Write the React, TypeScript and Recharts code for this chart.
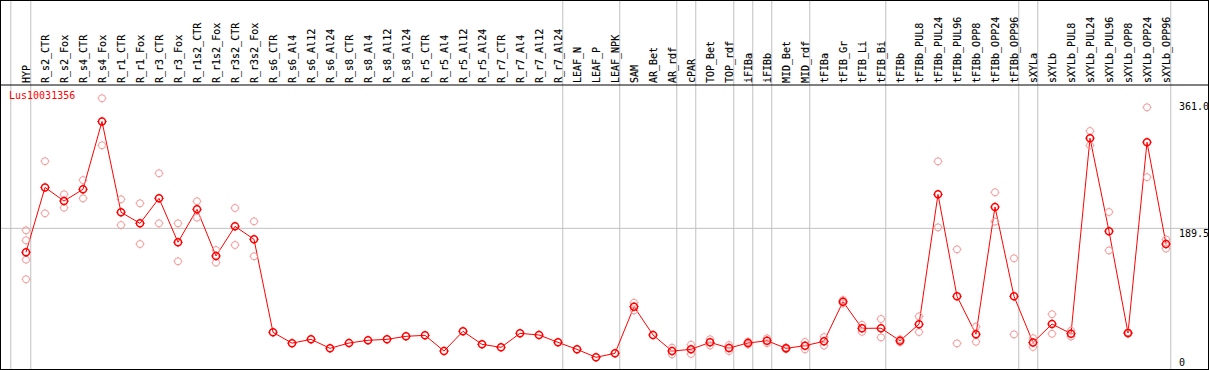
import React from "react";
import {
  ComposedChart,
  Line,
  XAxis,
  YAxis,
  ReferenceLine,
} from "recharts";

const categories = [
  "HYP", "R_s2_CTR", "R_s2_Fox", "R_s4_CTR", "R_s4_Fox", "R_r1_CTR", "R_r1_Fox",
  "R_r3_CTR", "R_r3_Fox", "R_r1s2_CTR", "R_r1s2_Fox", "R_r3s2_CTR", "R_r3s2_Fox",
  "R_s6_CTR", "R_s6_Al4", "R_s6_Al12", "R_s6_Al24", "R_s8_CTR", "R_s8_Al4",
  "R_s8_Al12", "R_s8_Al24", "R_r5_CTR", "R_r5_Al4", "R_r5_Al12", "R_r5_Al24",
  "R_r7_CTR", "R_r7_Al4", "R_r7_Al12", "R_r7_Al24", "LEAF_N", "LEAF_P", "LEAF_NPK",
  "SAM", "AR_Bet", "AR_rdf", "cPAR", "TOP_Bet", "TOP_rdf", "iFIBa", "iFIBb",
  "MID_Bet", "MID_rdf", "tFIBa", "tFIB_Gr", "tFIB_Li", "tFIB_Bi", "tFIBb",
  "tFIBb_PUL8", "tFIBb_PUL24", "tFIBb_PUL96", "tFIBb_OPP8", "tFIBb_OPP24",
  "tFIBb_OPP96", "sXYLa", "sXYLb", "sXYLb_PUL8", "sXYLb_PUL24", "sXYLb_PUL96",
  "sXYLb_OPP8", "sXYLb_OPP24", "sXYLb_OPP96",
];

// mean expression per sample
const meanValues = [
  157, 245, 226.6, 242.5, 334.5, 211.3, 196.3, 230.2, 170.6, 215.3, 152, 192.2, 174.6,
  48.4, 33.7, 38.9, 26.7, 33.9, 37.6, 38.9, 43, 44.3, 23, 49.8, 32.1, 28, 47, 44.8, 34.8,
  25.3, 14.5, 19.9,
  83.2, 44.8, 23, 25.3, 34.8, 27.1, 33.9, 37, 26.7, 30.3, 36.2, 90, 53.8, 54, 37,
  59.4, 235.6, 97.2, 45.8, 218.5, 97.2, 34.5, 59.7, 46.6, 311.8, 185.6, 47.5, 306.3, 168.2,
];

// individual replicates (null = none shown)
const rep1 = [
  186.8, 280.6, 235.7, 255, 366, 228.9, 223.5, 264.2, 196.3, 226.2, 160.1, 217.1, 199,
  null, null, null, null, null, null, null, null, null, null, null, null, null, null, null, null,
  null, null, null,
  88.5, null, 27.5, 31.6, 39, 31.2, 35.8, 40.3, 27.8, 35.3, 42, 92.3, 58.6, 66.5, 39,
  70, 280.4, 161, 56, 238.4, 148.8, 40.5, 73, 50.6, 321.6, 211.7, 48.5, 353.7, 174.4,
];
const rep2 = [
  173.3, 209.9, 217.5, 230.2, 302.2, 194, 168.2, 196.3, 144.8, 204, 142.9, 166.9, 151.6,
  null, null, null, null, null, null, null, null, null, null, null, null, null, null, null, null,
  null, null, null,
  78, null, 18.5, 19, 30.6, 23, 32, 33.7, 25.6, 25.3, 30.4, 87.7, 49, 41.5, 35,
  48.8, 190.8, 33.4, 35.6, 198.6, 45.6, 28.5, 46.4, 42.6, 302, 159.5, 46.5, 258.9, 162,
];
const rep3: (number | null)[] = [147];
const rep4: (number | null)[] = [120.4];

const yTicks = [0, 189.5, 361];
const yGrid = [189.5];
const separators = [-0.8, 0.25, 28.25, 31.25, 34.25, 35.25, 37.25, 38.25, 39.25, 41.25, 45.25, 52.25, 53.25, 60.25];

const data = categories.map((name, i) => ({
  i,
  name,
  mean: meanValues[i],
  r1: rep1[i] ?? null,
  r2: rep2[i] ?? null,
  r3: rep3[i] ?? null,
  r4: rep4[i] ?? null,
}));

const FONT = "'DejaVu Sans Mono', monospace";

function Marker(props: any) {
  const { cx, cy, value, color, r, sw, t } = props;
  if (value == null || cx == null || cy == null) return null;
  return (
    <g stroke={color} strokeWidth={sw} fill="none">
      <circle cx={cx} cy={cy} r={r} />
      <line x1={cx} y1={cy - r} x2={cx} y2={cy - r - t} strokeWidth={1} />
      <line x1={cx} y1={cy + r} x2={cx} y2={cy + r + t} strokeWidth={1} />
      <line x1={cx - r} y1={cy} x2={cx - r - t} y2={cy} strokeWidth={1} />
      <line x1={cx + r} y1={cy} x2={cx + r + t} y2={cy} strokeWidth={1} />
    </g>
  );
}

const pinkDot = (p: any) => <Marker key={p.key} {...p} color="#f29a9a" r={3.5} sw={1} t={1} />;
const redDot = (p: any) => <Marker key={p.key} {...p} color="#ff0000" r={3.5} sw={1.5} t={1.2} />;

function CatTick(props: any) {
  const { x, payload } = props;
  return (
    <text
      transform={`translate(${x},83) rotate(-90)`}
      textAnchor="start"
      dominantBaseline="central"
      fontFamily={FONT}
      fontSize={10}
      fill="#000"
      stroke="#000"
      strokeWidth={0.15}
    >
      {categories[payload.value]}
    </text>
  );
}

function ValTick(props: any) {
  const { y, payload } = props;
  const v = payload.value;
  const label = v === 0 ? "0" : v.toFixed(1);
  return (
    <text
      x={1179}
      y={v === 0 ? y - 2 : y + 1}
      dominantBaseline={v === 0 ? "auto" : "hanging"}
      textAnchor="start"
      fontFamily={FONT}
      fontSize={10}
      fill="#000"
    >
      {label}
    </text>
  );
}

export default function App() {
  return (
    <div style={{ position: "absolute", left: 0, top: 0, width: 1209, height: 370, background: "#fff" }}>
      <ComposedChart
        width={1209}
        height={370}
        data={data}
        margin={{ top: 0, right: 1, bottom: 2, left: 1 }}
      >
        <XAxis
          xAxisId={0}
          type="number"
          dataKey="i"
          orientation="top"
          height={85}
          domain={[-1.3158, 62.2105]}
          allowDataOverflow
          ticks={categories.map((_, i) => i)}
          interval={0}
          tick={<CatTick />}
          tickLine={false}
          axisLine={{ stroke: "#000", strokeWidth: 1 }}
        />
        <YAxis
          yAxisId={0}
          orientation="right"
          mirror
          width={30}
          domain={[0, 384]}
          allowDataOverflow
          ticks={yTicks}
          interval={0}
          tick={<ValTick />}
          tickLine={false}
          axisLine={false}
        />
        {yGrid.map((v) => (
          <ReferenceLine key={"h" + v} y={v} stroke="#c0c0c0" strokeWidth={1} />
        ))}
        {separators.map((s) => (
          <ReferenceLine
            key={"v" + s}
            segment={[{ x: s, y: -5 }, { x: s, y: 500 }]}
            ifOverflow="visible"
            stroke="#c0c0c0"
            strokeWidth={1}
          />
        ))}
        {["r1", "r2", "r3", "r4"].map((k) => (
          <Line
            key={k}
            dataKey={k}
            stroke="none"
            dot={pinkDot}
            activeDot={false}
            isAnimationActive={false}
          />
        ))}
        <Line
          dataKey="mean"
          type="linear"
          stroke="#ff0000"
          strokeWidth={1}
          dot={redDot}
          activeDot={false}
          isAnimationActive={false}
        />
      </ComposedChart>
      <div
        style={{
          position: "absolute",
          left: 9,
          top: 90,
          fontFamily: FONT,
          fontSize: 10,
          lineHeight: "12px",
          color: "#ff0000",
        }}
      >
        Lus10031356
      </div>
      <div
        style={{
          position: "absolute",
          left: 0,
          top: 0,
          width: 1209,
          height: 370,
          boxSizing: "border-box",
          border: "1px solid #000",
          pointerEvents: "none",
        }}
      />
    </div>
  );
}
